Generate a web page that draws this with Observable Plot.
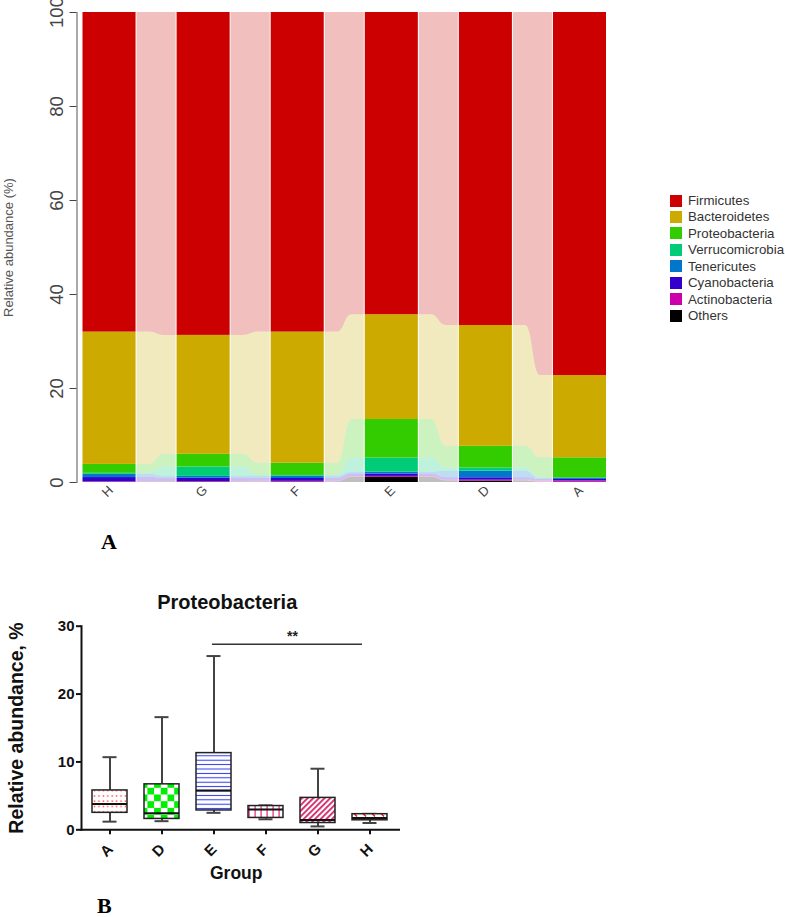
<!DOCTYPE html>
<html><head><meta charset="utf-8">
<script src="https://cdn.jsdelivr.net/npm/d3@7"></script>
<script src="https://cdn.jsdelivr.net/npm/@observablehq/plot@0.6"></script>
<style>
body{margin:0;background:#fff;}
#wrap{position:relative;width:785px;height:917px;overflow:hidden;font-family:"Liberation Sans",Arial,sans-serif;background:#fff;}
#top,#bot{position:absolute;left:0;}
#top{top:0}
#bot{top:560px}
#legend{position:absolute;left:670px;top:192.3px;}
.li{display:flex;align-items:center;height:16.45px;font-size:13.3px;color:#333;white-space:nowrap;}
.sw{width:12px;height:12px;margin-right:6px;flex:none;}
.lab{position:absolute;font-family:"Liberation Serif","Times New Roman",serif;font-weight:bold;font-size:22px;line-height:1;}
</style></head><body>
<div id="wrap">
<svg width="0" height="0" style="position:absolute">
<defs>
<pattern id="pat-A" patternUnits="userSpaceOnUse" width="4.4" height="5.3">
<rect width="4.4" height="5.3" fill="#fff"/><rect x="1.5" y="2" width="1.4" height="1.4" fill="#ff3b3b"/>
</pattern>
<pattern id="pat-D" patternUnits="userSpaceOnUse" width="13.4" height="13.4">
<rect width="13.4" height="13.4" fill="#fff"/><rect width="6.7" height="6.7" fill="#00ee00"/><rect x="6.7" y="6.7" width="6.7" height="6.7" fill="#00ee00"/>
</pattern>
<pattern id="pat-E" patternUnits="userSpaceOnUse" width="4" height="4.4">
<rect width="4" height="4.4" fill="#fff"/><rect y="1.7" width="4" height="1" fill="#2a35f0"/>
</pattern>
<pattern id="pat-F" patternUnits="userSpaceOnUse" width="6" height="4">
<rect width="6" height="4" fill="#fff"/><rect x="2.5" width="1.2" height="4" fill="#f0207a"/>
</pattern>
<pattern id="pat-G" patternUnits="userSpaceOnUse" width="4" height="4" patternTransform="rotate(45)">
<rect width="4" height="4" fill="#fff"/><rect x="1" width="1.8" height="4" fill="#d02468"/>
</pattern>
<pattern id="pat-H" patternUnits="userSpaceOnUse" width="9" height="6">
<rect width="9" height="6" fill="#fff"/><line x1="2.5" y1="1" x2="6" y2="4.5" stroke="#ee1c1c" stroke-width="1.6"/>
</pattern>
</defs>
</svg>
<div id="top"></div>
<div id="legend"></div>
<div class="lab" style="left:101px;top:531px;">A</div>
<div id="bot"></div>
<div class="lab" style="left:97px;top:895px;">B</div>
</div>
<script>
// ---------- Panel A data ----------
const groups = ["H", "G", "F", "E", "D", "A"];
const phyla = ["Firmicutes", "Bacteroidetes", "Proteobacteria", "Verrucomicrobia", "Tenericutes", "Cyanobacteria", "Actinobacteria", "Others"];
const phylumColors = ["#cc0000", "#ccaa00", "#33cc00", "#00cc77", "#0077cc", "#3300cc", "#cc00aa", "#000000"];
const firmicutes = [68.0, 68.7, 68.0, 64.3, 66.6, 77.25];
const bacteroidetes = [28.15, 25.3, 27.9, 22.3, 25.7, 17.5];
const proteobacteria = [1.9, 2.7, 2.6, 8.2, 4.6, 4.25];
const verrucomicrobia = [0.2, 2.0, 0.15, 3.0, 0.7, 0.15];
const tenericutes = [0.7, 0.4, 0.5, 0.4, 1.4, 0.2];
const cyanobacteria = [0.9, 0.7, 0.6, 0.5, 0.5, 0.3];
const actinobacteria = [0.1, 0.1, 0.15, 0.2, 0.2, 0.3];
const others = [0.05, 0.1, 0.1, 1.1, 0.3, 0.05];
const yTicksA = [0, 20, 40, 60, 80, 100];

// ---------- Panel B data ----------
const boxGroups = ["A", "D", "E", "F", "G", "H"];
const whiskerLow = [1.2, 1.27, 2.5, 1.55, 0.5, 1.0];
const quartile1 = [2.5, 1.6, 2.85, 1.75, 1.0, 1.4];
const medians = [3.8, 2.45, 5.8, 3.0, 1.45, 1.75];
const quartile3 = [5.8, 6.7, 11.3, 3.5, 4.7, 2.3];
const whiskerHigh = [10.7, 16.6, 25.6, 3.6, 9.0, 2.35];
const yTicksB = [0, 10, 20, 30];
const sigFrom = "E", sigTo = "H", sigValue = 27.35, sigLabel = "**";

// ---------- Panel A build ----------
const valuesByPhylum = {Firmicutes: firmicutes, Bacteroidetes: bacteroidetes, Proteobacteria: proteobacteria,
  Verrucomicrobia: verrucomicrobia, Tenericutes: tenericutes, Cyanobacteria: cyanobacteria,
  Actinobacteria: actinobacteria, Others: others};
const stackOrder = phyla.slice().reverse();
const rows = [];
groups.forEach((g, i) => {
  let c = 0;
  for (const p of stackOrder) {
    const v = valuesByPhylum[p][i];
    rows.push({i, g, phylum: p, y1: c, y2: c + v});
    c += v;
  }
});
const step = 94, hw = 26.5 / step, eps = 1 / step, flat = 13 / step;
const flows = [];
for (let i = 0; i < groups.length - 1; i++) {
  for (const p of stackOrder) {
    const a = rows.find(r => r.i === i && r.phylum === p);
    const b = rows.find(r => r.i === i + 1 && r.phylum === p);
    const xs = [i + hw + eps, i + hw + flat, i + 1 - hw - flat, i + 1 - hw - eps];
    const src = [a, a, b, b];
    xs.forEach((x, j) => flows.push({key: i + "-" + p, phylum: p, x, y1: src[j].y1, y2: src[j].y2}));
  }
}
const xmin = -hw - 6 / step;

const topPlot = Plot.plot({
  width: 785, height: 560,
  marginLeft: 76.5, marginRight: 179, marginTop: 12, marginBottom: 78,
  style: {background: "transparent", fontFamily: "'Liberation Sans', Arial, sans-serif"},
  x: {domain: [xmin, groups.length - 1 + hw], axis: null},
  y: {domain: [0, 100], axis: null},
  color: {domain: phyla, range: phylumColors},
  marks: [
    Plot.areaY(flows, {x: "x", y1: "y1", y2: "y2", z: "key", fill: "phylum", fillOpacity: 0.25, curve: "bump-x"}),
    Plot.rectY(rows, {x1: d => d.i - hw, x2: d => d.i + hw, y1: "y1", y2: "y2", fill: "phylum"}),
    Plot.frame({anchor: "left", stroke: "#555"}),
    Plot.axisY({ticks: yTicksA, label: null, tickSize: 7, tickPadding: 7, tickRotate: -90, fontSize: 18.5, color: "#444"}),
    Plot.text(groups, {x: (d, i) => i, y: () => 0, text: d => d, dy: 9, dx: -2, rotate: -45, fontSize: 13, fill: "#444"}),
    Plot.text(["Relative abundance (%)"], {frameAnchor: "left", textAnchor: "middle", dx: -68, rotate: -90, fontSize: 13, fill: "#555"})
  ]
});
document.getElementById("top").appendChild(topPlot);

const legend = document.getElementById("legend");
phyla.forEach((p, k) => {
  const row = document.createElement("div");
  row.className = "li";
  row.innerHTML = `<span class="sw" style="background:${phylumColors[k]}"></span><span>${p}</span>`;
  legend.appendChild(row);
});

// ---------- Panel B build ----------
const boxRows = boxGroups.map((g, i) => ({g, lo: whiskerLow[i], q1: quartile1[i], med: medians[i], q3: quartile3[i], hi: whiskerHigh[i], pat: `url(#pat-${g})`}));
const bold = "bold";
const botPlot = Plot.plot({
  width: 785, height: 357,
  marginLeft: 81, marginRight: 386.5, marginTop: 65.7, marginBottom: 87.7,
  style: {background: "transparent", fontFamily: "'Liberation Sans', Arial, sans-serif"},
  x: {domain: boxGroups, paddingInner: 0.32, paddingOuter: 0.16, axis: null},
  y: {domain: [0, 30], axis: null},
  color: {type: "identity"},
  marks: [
    Plot.ruleX(boxRows, {x: "g", y1: "lo", y2: "hi", stroke: "#444", strokeWidth: 2}),
    Plot.tickY(boxRows, {x: "g", y: "lo", insetLeft: 10.5, insetRight: 10.5, stroke: "#444", strokeWidth: 2}),
    Plot.tickY(boxRows, {x: "g", y: "hi", insetLeft: 10.5, insetRight: 10.5, stroke: "#444", strokeWidth: 2}),
    Plot.barY(boxRows, {x: "g", y1: "q1", y2: "q3", fill: "pat", stroke: "#222", strokeWidth: 1.5}),
    Plot.tickY(boxRows, {x: "g", y: "med", stroke: "#111", strokeWidth: 2}),
    Plot.frame({anchor: "left", stroke: "#111", strokeWidth: 2}),
    Plot.frame({anchor: "bottom", stroke: "#111", strokeWidth: 2}),
    Plot.axisY({ticks: yTicksB, label: null, tickSize: 5, tickPadding: 2, fontSize: 15, fontWeight: bold, strokeWidth: 2, color: "#111"}),
    Plot.axisX({label: null, tickSize: 5, tickFormat: () => "", strokeWidth: 2, color: "#111"}),
    Plot.text(boxGroups, {x: d => d, text: d => d, frameAnchor: "bottom", dy: 24, rotate: -45, fontSize: 15, fontWeight: bold, fill: "#111"}),
    Plot.ruleY([sigValue], {x1: () => sigFrom, x2: () => sigTo, insetLeft: 16, insetRight: 25, stroke: "#333", strokeWidth: 1.5}),
    Plot.text([sigLabel], {x: () => "F", y: () => sigValue, dx: 26.5, dy: -8, fontSize: 14, fontWeight: bold, fill: "#222"}),
    Plot.text(["Group"], {frameAnchor: "bottom", dx: -4, dy: 49, fontSize: 17.5, fontWeight: bold, fill: "#111"}),
    Plot.text(["Proteobacteria"], {frameAnchor: "top", dx: -13, dy: -31, fontSize: 20, fontWeight: bold, fill: "#111"}),
    Plot.text(["Relative abundance, %"], {frameAnchor: "left", textAnchor: "middle", dx: -65, rotate: -90, fontSize: 19.5, fontWeight: bold, fill: "#111"})
  ]
});
document.getElementById("bot").appendChild(botPlot);
</script>
</body></html>
